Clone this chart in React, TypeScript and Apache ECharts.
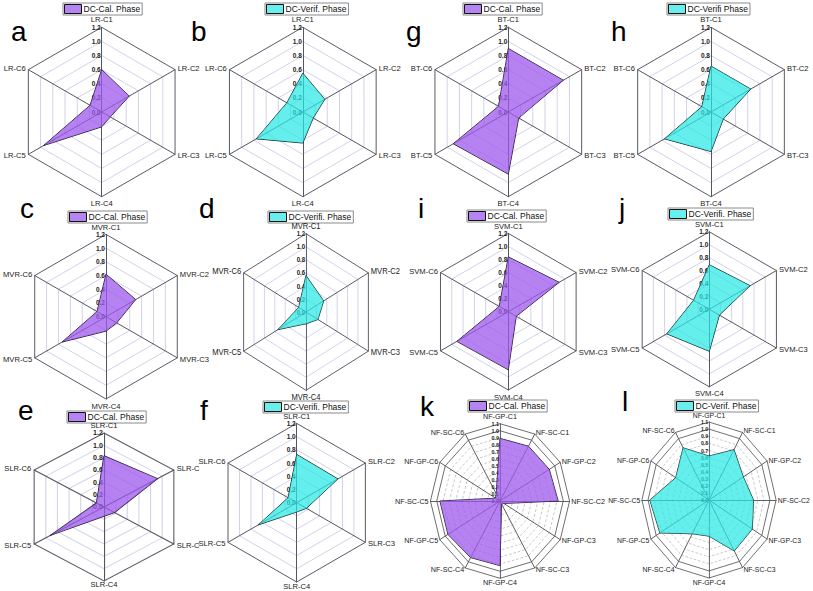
import { useEffect, useRef } from 'react';
import * as echarts from 'echarts';

// ---------- axis names ----------
const LR_AXES = ['LR-C1', 'LR-C2', 'LR-C3', 'LR-C4', 'LR-C5', 'LR-C6'];
const BT_AXES = ['BT-C1', 'BT-C2', 'BT-C3', 'BT-C4', 'BT-C5', 'BT-C6'];
const MVR_AXES = ['MVR-C1', 'MVR-C2', 'MVR-C3', 'MVR-C4', 'MVR-C5', 'MVR-C6'];
const SVM_AXES = ['SVM-C1', 'SVM-C2', 'SVM-C3', 'SVM-C4', 'SVM-C5', 'SVM-C6'];
const SLR_AXES_E = ['SLR-C1', 'SLR-C', 'SLR-C', 'SLR-C4', 'SLR-C5', 'SLR-C6'];
const SLR_AXES = ['SLR-C1', 'SLR-C2', 'SLR-C3', 'SLR-C4', 'SLR-C5', 'SLR-C6'];
const NF_AXES = [
  'NF-GP-C1', 'NF-SC-C1', 'NF-GP-C2', 'NF-SC-C2', 'NF-GP-C3', 'NF-SC-C3',
  'NF-GP-C4', 'NF-SC-C4', 'NF-GP-C5', 'NF-SC-C5', 'NF-GP-C6', 'NF-SC-C6',
];

// ---------- values (clockwise from top) ----------
const LR_CAL = [0.60, 0.45, 0.14, 0.21, 0.95, 0.19];
const LR_VER = [0.55, 0.36, 0.17, 0.44, 0.76, 0.26];
const BT_CAL = [0.90, 0.90, 0.17, 0.88, 0.90, 0.16];
const BT_VER = [0.65, 0.65, 0.20, 0.56, 0.76, 0.15];
const MVR_CAL = [0.62, 0.50, 0.18, 0.21, 0.74, 0.15];
const MVR_VER = [0.56, 0.34, 0.23, 0.18, 0.54, 0.14];
const SVM_CAL = [0.84, 0.90, 0.14, 0.89, 0.91, 0.16];
const SVM_VER = [0.69, 0.73, 0.18, 0.65, 0.76, 0.28];
const SLR_CAL = [0.83, 0.92, 0.18, 0.15, 0.92, 0.13];
const SLR_VER = [0.73, 0.72, 0.17, 0.14, 0.67, 0.15];
const NF_CAL = [0.89, 0.90, 0.90, 0.92, 0.07, 0.05, 0.92, 0.93, 0.95, 0.95, 0.08, 0.12];
const NF_VER = [0.62, 0.82, 0.65, 0.73, 0.82, 0.83, 0.51, 0.55, 0.93, 0.97, 0.63, 0.85];

// ---------- series names ----------
const CAL = 'DC-Cal. Phase';
const VERIF = 'DC-Verif. Phase';
const VERIFI = 'DC-Verifi Phase';
const VERIFI_DOT = 'DC-Verifi. Phase';

const FONT = '"Liberation Sans", Arial, Helvetica, sans-serif';
const CAL_FILL = 'rgba(158,88,238,0.75)';
const CAL_SWATCH = '#b583f2';
const VER_FILL = 'rgba(40,232,228,0.72)';
const VER_SWATCH = '#68eeec';

type Panel = {
  letter: string;
  axes: string[];
  values: number[];
  name: string;
  cal: boolean;
  nf: boolean;
  center: [number, number];
  radius: number; // vertical radius
  sx: number; // horizontal stretch of the plot
  topGap: number;
  bottomGap: number;
  legend: [number, number];
  letterPos: [number, number];
};

const PANELS: Panel[] = [
  { letter: 'a', axes: LR_AXES, values: LR_CAL, name: CAL, cal: true, nf: false, center: [101.7, 112], radius: 84.7, sx: 1, topGap: 3, bottomGap: 3, legend: [63, 3], letterPos: [11, 17] },
  { letter: 'b', axes: LR_AXES, values: LR_VER, name: VERIF, cal: false, nf: false, center: [302.8, 112], radius: 84.7, sx: 1, topGap: 3, bottomGap: 3, legend: [265, 3], letterPos: [191, 17] },
  { letter: 'g', axes: BT_AXES, values: BT_CAL, name: CAL, cal: true, nf: false, center: [508.3, 112], radius: 84.7, sx: 1, topGap: 3, bottomGap: 3, legend: [463, 3], letterPos: [406, 17] },
  { letter: 'h', axes: BT_AXES, values: BT_VER, name: VERIFI, cal: false, nf: false, center: [711, 112], radius: 84.7, sx: 1, topGap: 3, bottomGap: 3, legend: [667, 3], letterPos: [611, 17] },
  { letter: 'c', axes: MVR_AXES, values: MVR_CAL, name: CAL, cal: true, nf: false, center: [106, 316.7], radius: 82.3, sx: 1, topGap: 3, bottomGap: 3, legend: [68, 211], letterPos: [20, 194] },
  { letter: 'd', axes: MVR_AXES, values: MVR_VER, name: VERIFI_DOT, cal: false, nf: false, center: [305.8, 311.7], radius: 78.3, sx: 0.92, topGap: 1, bottomGap: 3, legend: [268, 211], letterPos: [199, 194] },
  { letter: 'i', axes: SVM_AXES, values: SVM_CAL, name: CAL, cal: true, nf: false, center: [508.3, 311.7], radius: 78.3, sx: 1, topGap: 2, bottomGap: 3, legend: [467, 210], letterPos: [418, 194] },
  { letter: 'j', axes: SVM_AXES, values: SVM_VER, name: VERIFI_DOT, cal: false, nf: false, center: [709.3, 309.3], radius: 77.5, sx: 1, topGap: 2, bottomGap: 3, legend: [668, 208], letterPos: [619, 194] },
  { letter: 'e', axes: SLR_AXES_E, values: SLR_CAL, name: CAL, cal: true, nf: false, center: [104, 507.3], radius: 74, sx: 1.09, topGap: 3, bottomGap: 0, legend: [67, 411], letterPos: [18, 396] },
  { letter: 'f', axes: SLR_AXES, values: SLR_VER, name: VERIFI_DOT, cal: false, nf: false, center: [296.7, 502.7], radius: 79.3, sx: 1, topGap: 2, bottomGap: 0, legend: [263, 401], letterPos: [200, 396] },
  { letter: 'k', axes: NF_AXES, values: NF_CAL, name: CAL, cal: true, nf: true, center: [500, 501], radius: 77.3, sx: 0.9, topGap: 2, bottomGap: 0, legend: [468, 400], letterPos: [420, 392] },
  { letter: 'l', axes: NF_AXES, values: NF_VER, name: VERIF, cal: false, nf: true, center: [708.7, 500.3], radius: 78, sx: 0.86, topGap: 2, bottomGap: 0, legend: [675, 400], letterPos: [622, 387] },
];

// ECharts lays indicators counter-clockwise; the figure runs clockwise.
const cw = <T,>(arr: T[]): T[] => [arr[0], ...arr.slice(1).reverse()];

const BOX_W = 240;
const BOX_H = 210;

function radarParts(p: Panel, center: [number, number], radarIndex: number) {
  const max = p.nf ? 1.1 : 1.2;
  const split = p.nf ? 11 : 6;
  const inner = p.nf ? '#c6c6c6' : '#d2d2ea';
  const outer = p.nf ? '#666666' : '#5a5a66';
  const n = p.axes.length;
  const bottomIdx = n / 2; // index of the downward axis in cw order
  const nameSize = p.nf ? 8 : 7.6 / p.sx;
  const colors: string[] = [];
  for (let i = 0; i <= split; i++) {
    if (p.nf) colors.push(i >= 10 ? 'rgba(0,0,0,0)' : inner);
    else colors.push(i === split ? outer : inner);
  }
  const radars: any[] = [
    {
      center,
      radius: p.radius,
      startAngle: 90,
      shape: 'polygon',
      splitNumber: split,
      nameGap: p.nf ? 2 : 3,
      axisName: { color: '#222', fontSize: nameSize, fontFamily: FONT },
      indicator: cw(p.axes).map((nm, i) => ({
        name: nm,
        min: 0,
        max,
        ...(i === 0 ? { axisLabel: { show: true }, nameGap: p.topGap } : {}),
        ...(i === bottomIdx ? { nameGap: p.bottomGap } : {}),
      })),
      axisLine: { show: true, lineStyle: { color: '#55555f', width: 1 } },
      axisTick: { show: false },
      axisLabel: {
        show: false,
        fontSize: p.nf ? 6 : 6.5,
        fontWeight: 'bold',
        color: '#222',
        fontFamily: FONT,
        margin: 1,
        formatter: (v: any) => Number(v).toFixed(1),
      },
      splitLine: {
        show: true,
        lineStyle: { color: colors, width: 1, type: p.nf ? [3, 2] : 'solid' },
      },
      splitArea: { show: false },
    },
  ];
  if (p.nf) {
    const solid: string[] = [];
    for (let i = 0; i <= 11; i++) solid.push(i >= 10 ? outer : 'rgba(0,0,0,0)');
    radars.push({
      center,
      radius: p.radius,
      startAngle: 90,
      shape: 'polygon',
      splitNumber: 11,
      indicator: p.axes.map(() => ({ name: '', min: 0, max: 1.1 })),
      axisName: { show: false },
      axisLine: { show: false },
      axisTick: { show: false },
      axisLabel: { show: false },
      splitLine: { show: true, lineStyle: { color: solid, width: 1 } },
      splitArea: { show: false },
    });
  }
  const fill = p.cal ? CAL_FILL : VER_FILL;
  const swatch = p.cal ? CAL_SWATCH : VER_SWATCH;
  const series = {
    type: 'radar',
    radarIndex,
    name: p.name,
    symbol: 'none',
    z: 3,
    itemStyle: { color: swatch },
    lineStyle: { color: '#1a1a1a', width: 1 },
    areaStyle: { color: fill, opacity: 1 },
    data: [
      {
        name: p.name,
        value: cw(p.values),
        itemStyle: { color: swatch },
        lineStyle: { color: '#1a1a1a', width: 1 },
        areaStyle: { color: fill, opacity: 1 },
      },
    ],
  };
  return { radars, series };
}

function mainOption(): any {
  const radars: any[] = [];
  const series: any[] = [];
  const legends: any[] = [];
  const titles: any[] = [];
  PANELS.forEach((p) => {
    if (p.sx === 1) {
      const parts = radarParts(p, p.center, radars.length);
      radars.push(...parts.radars);
      series.push(parts.series);
    }
    legends.push({
      left: p.legend[0],
      top: p.legend[1],
      data: [p.name],
      icon: 'rect',
      itemWidth: 17,
      itemHeight: 9,
      itemGap: 0,
      padding: [1, 2, 1, 1],
      borderColor: '#8a8a8a',
      borderWidth: 1,
      selectedMode: false,
      itemStyle: { borderColor: '#111', borderWidth: 1 },
      textStyle: { fontSize: 8.5, lineHeight: 10, color: '#111', fontFamily: FONT, padding: [0, 0, 0, -3] },
    });
    titles.push({
      text: p.letter,
      left: p.letterPos[0],
      top: p.letterPos[1],
      padding: 0,
      textStyle: { fontSize: 28, fontWeight: 'normal', color: '#000', fontFamily: FONT },
    });
  });
  return { animation: false, title: titles, legend: legends, radar: radars, series };
}

function singleOption(p: Panel): any {
  const parts = radarParts(p, [BOX_W / 2, BOX_H / 2], 0);
  return { animation: false, radar: parts.radars, series: [parts.series] };
}

function Chart({ option, style }: { option: any; style: any }) {
  const ref = useRef<HTMLDivElement>(null);
  useEffect(() => {
    if (!ref.current) return;
    const chart = echarts.init(ref.current, undefined, { renderer: 'svg' });
    chart.setOption(option);
    return () => chart.dispose();
  }, []);
  return <div ref={ref} style={style} />;
}

export default function App() {
  const stretched = PANELS.filter((p) => p.sx !== 1);
  return (
    <div style={{ position: 'fixed', left: 0, top: 0, width: 813, height: 591, background: '#fff', overflow: 'hidden' }}>
      <Chart option={mainOption()} style={{ position: 'absolute', left: 0, top: 0, width: 813, height: 591 }} />
      {stretched.map((p) => (
        <Chart
          key={p.letter}
          option={singleOption(p)}
          style={{
            position: 'absolute',
            left: p.center[0] - BOX_W / 2,
            top: p.center[1] - BOX_H / 2,
            width: BOX_W,
            height: BOX_H,
            transform: `scaleX(${p.sx})`,
            transformOrigin: '50% 50%',
          }}
        />
      ))}
    </div>
  );
}
